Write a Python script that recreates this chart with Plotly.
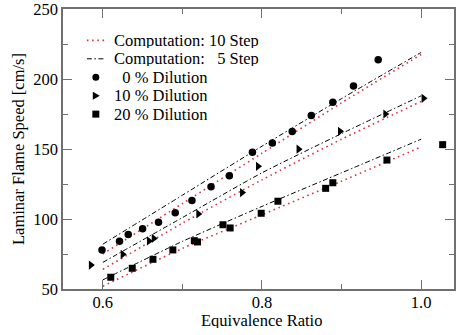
import plotly.graph_objects as go

# Measured laminar flame speeds [cm/s] vs equivalence ratio
phi_0 = [0.599, 0.621, 0.632, 0.650, 0.670, 0.691, 0.712, 0.736, 0.759, 0.788,
         0.813, 0.838, 0.862, 0.889, 0.915, 0.946]
s_0 = [77.9, 84.1, 88.9, 93.0, 97.6, 104.5, 113.2, 123.0, 130.9, 147.7,
       154.3, 162.5, 173.9, 183.4, 195.0, 213.7]

phi_10 = [0.585, 0.625, 0.658, 0.664, 0.720, 0.775, 0.795, 0.846, 0.898, 0.955, 1.003]
s_10 = [67.1, 74.8, 84.3, 86.1, 103.6, 118.9, 137.6, 149.9, 162.6, 175.0, 186.2]

phi_20 = [0.610, 0.637, 0.663, 0.688, 0.715, 0.719, 0.751, 0.760, 0.799, 0.820,
          0.880, 0.889, 0.957, 1.027]
s_20 = [58.4, 64.8, 71.2, 77.9, 84.5, 83.6, 95.9, 93.6, 104.1, 112.7,
        121.9, 125.9, 142.1, 153.1]

# Computed flame speeds (10-step and 5-step mechanisms)
phi_calc = [0.6, 0.7, 0.8, 0.9, 1.0]
s10_0 = [75.0, 111.0, 147.0, 183.0, 217.5]
s5_0 = [82.0, 117.0, 152.0, 186.0, 219.0]
s10_10 = [64.0, 97.0, 128.0, 157.0, 184.0]
s5_10 = [69.0, 101.0, 133.0, 161.0, 188.0]
s10_20 = [52.0, 79.0, 103.0, 127.0, 151.5]
s5_20 = [56.5, 84.0, 109.0, 133.0, 157.0]

legend_labels = [
    "Computation: 10 Step",
    "Computation: \u20075 Step",
    "\u20070 % Dilution",
    "10 % Dilution",
    "20 % Dilution",
]
x_title = "Equivalence Ratio"
y_title = "Laminar Flame Speed [cm/s]"

RED = "#dd3344"
FONT = "Liberation Serif"
AXC = "#707070"

fig = go.Figure()

for ys in (s10_0, s10_10, s10_20):
    fig.add_trace(go.Scatter(x=phi_calc, y=ys, mode="lines",
                             line=dict(color=RED, width=1.6, dash="1.6px,3.6px",
                                       shape="spline", smoothing=0.6),
                             showlegend=False, hoverinfo="skip"))
for ys in (s5_0, s5_10, s5_20):
    fig.add_trace(go.Scatter(x=phi_calc, y=ys, mode="lines",
                             line=dict(color="black", width=1, dash="5px,2.5px,1.5px,2.5px",
                                       shape="spline", smoothing=0.6),
                             showlegend=False, hoverinfo="skip"))

for xs, ys, sym, sz in ((phi_0, s_0, "circle", 7.5),
                        (phi_10, s_10, "triangle-right", 8),
                        (phi_20, s_20, "square", 7)):
    fig.add_trace(go.Scatter(x=xs, y=ys, mode="markers",
                             marker=dict(symbol=sym, size=sz, color="black",
                                         line=dict(width=0)),
                             showlegend=False))

# Hand-placed legend (paper coordinates of the plot area)
L, T, W, H = 63, 8, 393, 281


def px(x):
    return (x - L) / W


def py(y):
    return 1 - (y - T) / H


rows = [39.5, 58, 76.5, 95, 113.5]
for lab, yy in zip(legend_labels, rows):
    fig.add_annotation(x=px(113), y=py(yy), xref="paper", yref="paper",
                       text=lab, showarrow=False, xanchor="left", yanchor="middle",
                       height=15, borderpad=0,
                       font=dict(family=FONT, size=16.5, color="black"))

fig.add_shape(type="line", xref="paper", yref="paper",
              x0=px(87), x1=px(105), y0=py(rows[0]), y1=py(rows[0]),
              line=dict(color=RED, width=1.6, dash="1.6px,3.6px"))
fig.add_shape(type="line", xref="paper", yref="paper",
              x0=px(87), x1=px(105), y0=py(rows[1]), y1=py(rows[1]),
              line=dict(color="black", width=1, dash="5px,2.5px,1.5px,2.5px"))
sym_common = dict(xref="paper", yref="paper", xsizemode="pixel", ysizemode="pixel",
                  fillcolor="black", line=dict(width=0), xanchor=px(96))
fig.add_shape(type="circle", yanchor=py(rows[2]), x0=-3.5, x1=3.5, y0=-3.5, y1=3.5,
              **sym_common)
fig.add_shape(type="path", yanchor=py(rows[3]), path="M-3,-4 L4,0 L-3,4 Z",
              **sym_common)
fig.add_shape(type="rect", yanchor=py(rows[4]), x0=-3.5, x1=3.5, y0=-3.5, y1=3.5,
              **sym_common)

# x-axis title placed just under the tick labels
fig.add_annotation(x=0.8, xref="x", y=py(321), yref="paper", text=x_title,
                   showarrow=False, xanchor="center", yanchor="middle",
                   height=15, borderpad=0,
                   font=dict(family=FONT, size=16.5, color="black"))

axis_common = dict(showgrid=False, zeroline=False, showline=True, linecolor=AXC,
                   linewidth=1.5, mirror="ticks", ticks="inside", ticklen=9,
                   tickwidth=1.2, tickcolor=AXC, ticklabeloverflow="allow",
                   tickfont=dict(family=FONT, size=16.5, color="black"),
                   title_font=dict(family=FONT, size=16.5, color="black"))

fig.update_xaxes(range=[0.55, 0.55 + W / 800], tick0=0.6, dtick=0.2, tickformat=".1f",
                 ticklabelstandoff=-3,
                 minor=dict(ticks="inside", ticklen=5, dtick=0.1, tick0=0.6,
                            tickcolor=AXC, tickwidth=1.2),
                 **axis_common)
fig.update_yaxes(range=[50, 250], tick0=50, dtick=50,
                 minor=dict(ticks="inside", ticklen=5, dtick=25, tick0=50,
                            tickcolor=AXC, tickwidth=1.2),
                 title_text=y_title, title_standoff=4, **axis_common)

fig.update_layout(width=456, height=335,
                  margin=dict(l=L, r=456 - L - W, t=T, b=335 - T - H),
                  font=dict(family=FONT),
                  paper_bgcolor="white", plot_bgcolor="white", showlegend=False)

fig.write_html("out.html")
